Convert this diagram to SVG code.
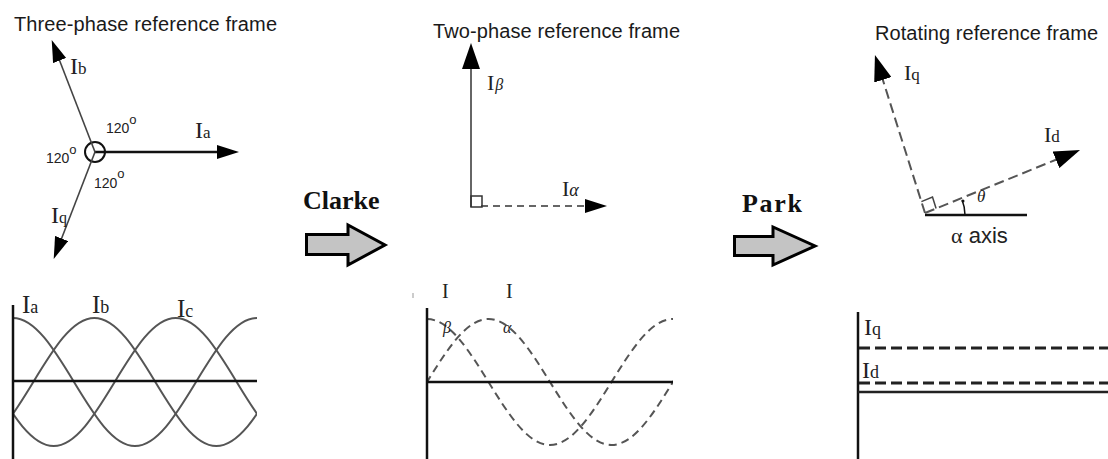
<svg xmlns="http://www.w3.org/2000/svg" xmlns:xlink="http://www.w3.org/1999/xlink" width="1108" height="459" viewBox="0 0 1108 459">
<style>
.title{font-family:"Liberation Sans",Arial,sans-serif;font-size:20px;fill:#1a1a1a}
.lbl{font-family:"Liberation Serif","Times New Roman",serif;fill:#222}
.it{font-style:italic}
.deg{font-family:"Liberation Sans",Arial,sans-serif;font-size:14px;fill:#222}
.op{font-family:"Liberation Serif","Times New Roman",serif;font-weight:bold;font-size:26px;fill:#111}
.axis{stroke:#111;stroke-width:2.5;fill:none}
.wave{stroke:#555;stroke-width:2;fill:none}
.dwave{stroke:#555;stroke-width:2;fill:none;stroke-dasharray:8 5}
.dash{stroke:#555;stroke-width:2;fill:none;stroke-dasharray:10 5}
.level{stroke:#222;stroke-width:3;fill:none;stroke-dasharray:11 5}
.block{fill:#c4c4c4;stroke:#000;stroke-width:3;stroke-linejoin:miter}
</style>
<defs>
<marker id="ah" markerUnits="userSpaceOnUse" markerWidth="22" markerHeight="14" refX="2" refY="7" orient="auto"><path d="M0,0 L22,7 L0,14 Z" fill="#000"/></marker>
<marker id="ahb" markerUnits="userSpaceOnUse" markerWidth="26" markerHeight="18" refX="2" refY="9" orient="auto"><path d="M0,0 L26,9 L0,18 Z" fill="#000"/></marker>
<path id="cosw" d="M0,-64 C22.08,-64 41.11,-32.79 61,0 C80.89,32.79 99.92,64 122,64 C144.08,64 163.11,32.79 183,0 C202.89,-32.79 221.92,-64 244,-64 C266.08,-64 285.11,-32.79 305,0 C324.89,32.79 343.92,64 366,64 C388.08,64 407.11,32.79 427,0 C446.89,-32.79 465.92,-64 488,-64 C510.08,-64 529.11,-32.79 549,0 C568.89,32.79 587.92,64 610,64 C632.08,64 651.11,32.79 671,0 C690.89,-32.79 709.92,-64 732,-64"/>
<clipPath id="c1"><rect x="13" y="300" width="244" height="159"/></clipPath>
<clipPath id="c2"><rect x="427" y="300" width="246" height="159"/></clipPath>
</defs>
<rect width="1108" height="459" fill="#fff"/>

<g id="three-phase-frame">
<text class="title" x="14" y="31" textLength="263">Three-phase reference frame</text>
<circle cx="95" cy="152" r="10" fill="none" stroke="#111" stroke-width="2"/>
<line x1="95" y1="152" x2="219" y2="152" stroke="#111" stroke-width="2.5" marker-end="url(#ah)"/>
<line x1="95" y1="152" x2="58.9" y2="58.7" stroke="#444" stroke-width="1.6" marker-end="url(#ah)"/>
<line x1="95" y1="152" x2="60.9" y2="240.3" stroke="#444" stroke-width="1.6" marker-end="url(#ah)"/>
<text class="lbl" x="195" y="138"><tspan font-size="24">I</tspan><tspan font-size="17">a</tspan></text>
<text class="lbl" x="70" y="74"><tspan font-size="24">I</tspan><tspan font-size="17">b</tspan></text>
<text class="lbl" x="51" y="223"><tspan font-size="24">I</tspan><tspan font-size="16">q</tspan></text>
<text class="deg" x="106" y="133">120<tspan dy="-9" font-size="13">o</tspan></text>
<text class="deg" x="46" y="163">120<tspan dy="-9" font-size="13">o</tspan></text>
<text class="deg" x="94" y="188">120<tspan dy="-10" font-size="13">o</tspan></text>
</g>

<g id="three-phase-waves">
<g clip-path="url(#c1)">
<use xlink:href="#cosw" href="#cosw" class="wave" transform="translate(13,382)"/>
<use xlink:href="#cosw" href="#cosw" class="wave" transform="translate(-149.67,382)"/>
<use xlink:href="#cosw" href="#cosw" class="wave" transform="translate(-68.33,382)"/>
</g>
<line class="axis" x1="13" y1="305" x2="13" y2="459"/>
<line class="axis" x1="13" y1="381" x2="257" y2="381"/>
<text class="lbl" x="22" y="313"><tspan font-size="25">I</tspan><tspan font-size="18">a</tspan></text>
<text class="lbl" x="92" y="313"><tspan font-size="25">I</tspan><tspan font-size="18">b</tspan></text>
<text class="lbl" x="177" y="317"><tspan font-size="25">I</tspan><tspan font-size="18">c</tspan></text>
</g>

<g id="two-phase-frame">
<text class="title" x="433" y="38" textLength="247">Two-phase reference frame</text>
<line x1="471" y1="207" x2="471" y2="67" stroke="#666" stroke-width="2" marker-end="url(#ahb)"/>
<line x1="481" y1="206" x2="587" y2="206" stroke="#666" stroke-width="2" stroke-dasharray="7 5" marker-end="url(#ah)"/>
<rect x="471" y="196" width="11" height="11" fill="none" stroke="#333" stroke-width="1.5"/>
<text class="lbl" x="487" y="90"><tspan font-size="22">I</tspan><tspan class="it" font-size="16" dx="1">β</tspan></text>
<text class="lbl" x="562" y="196"><tspan font-size="22">I</tspan><tspan class="it" font-size="18">α</tspan></text>
</g>

<g id="two-phase-waves">
<g clip-path="url(#c2)">
<use xlink:href="#cosw" href="#cosw" class="dwave" transform="translate(427,382) scale(1.0082,0.984)"/>
<use xlink:href="#cosw" href="#cosw" class="dwave" transform="translate(242.5,382) scale(1.0082,0.984)"/>
</g>
<line class="axis" x1="427" y1="308" x2="427" y2="459"/>
<line class="axis" x1="427" y1="382" x2="673" y2="382"/>
<line x1="413" y1="293" x2="413" y2="298" stroke="#999" stroke-width="1"/>
<text class="lbl" x="442" y="298" font-size="20">I</text>
<text class="lbl it" x="443" y="333" font-size="16">β</text>
<text class="lbl" x="506" y="298" font-size="20">I</text>
<text class="lbl it" x="503" y="333" font-size="16">α</text>
</g>

<g id="rotating-frame">
<text class="title" x="875" y="40" textLength="223">Rotating reference frame</text>
<line x1="925" y1="215" x2="1027" y2="215" stroke="#111" stroke-width="2.5"/>
<line class="dash" x1="925" y1="213" x2="882.2" y2="77.9" marker-end="url(#ahb)"/>
<line class="dash" x1="925" y1="213" x2="1057.8" y2="159" marker-end="url(#ahb)"/>
<path d="M921.4,201.6 L932.5,197.1 L936.1,208.5" fill="none" stroke="#444" stroke-width="1.5"/>
<path d="M965,215 A40,40 0 0 0 962.1,200" fill="none" stroke="#111" stroke-width="1.5"/>
<circle cx="963" cy="201" r="1.5" fill="#111"/>
<text class="lbl it" x="977" y="202" font-size="17">θ</text>
<text class="lbl" x="904" y="80"><tspan font-size="22">I</tspan><tspan font-size="17">q</tspan></text>
<text class="lbl" x="1044" y="142"><tspan font-size="22">I</tspan><tspan font-size="17">d</tspan></text>
<text x="951" y="243" font-family="Liberation Sans,Arial,sans-serif" font-size="22" fill="#222"><tspan font-family="Liberation Serif,serif">α</tspan> axis</text>
</g>

<g id="rotating-waves">
<line class="axis" x1="858" y1="312" x2="858" y2="459"/>
<line x1="858" y1="392" x2="1108" y2="392" stroke="#222" stroke-width="2.5"/>
<line class="level" x1="859" y1="348" x2="1108" y2="348"/>
<line class="level" x1="859" y1="383" x2="1108" y2="383"/>
<text class="lbl" x="864" y="335"><tspan font-size="24">I</tspan><tspan font-size="18">q</tspan></text>
<text class="lbl" x="862" y="378"><tspan font-size="24">I</tspan><tspan font-size="18">d</tspan></text>
</g>

<g id="connectors">
<g id="clarke">
<text class="op" x="303" y="209">Clarke</text>
<path class="block" d="M306.5,234.5 H348 V225 L385,245 L348,265 V254.5 H306.5 Z"/>
</g>
<g id="park">
<text class="op" x="742" y="212" textLength="60">Park</text>
<path class="block" d="M734.5,236.5 H773 V227 L815,246 L773,265 V255.5 H734.5 Z"/>
</g>
</g>
</svg>
